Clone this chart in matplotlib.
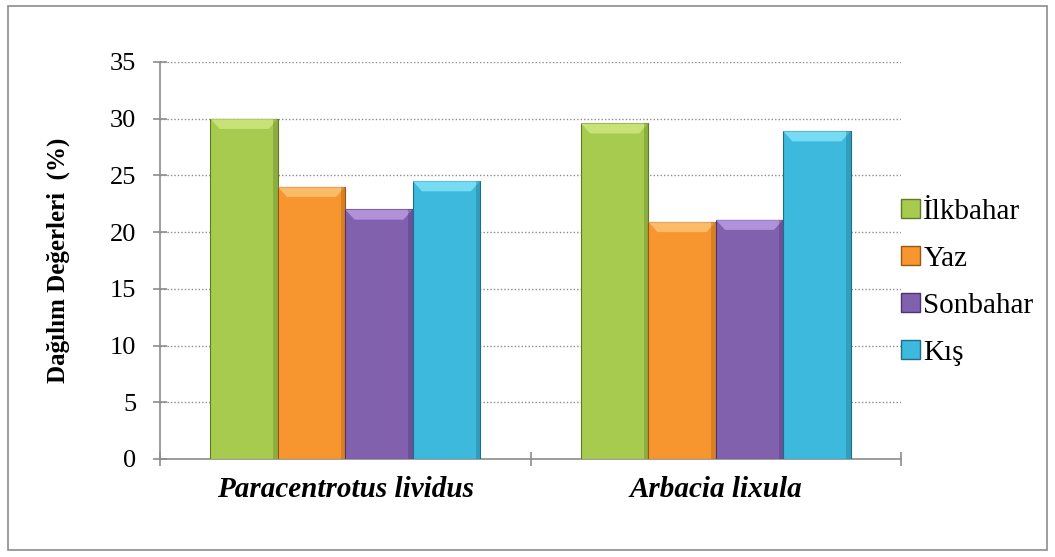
import matplotlib
matplotlib.use('Agg')
import matplotlib.pyplot as plt
import matplotlib.patches as patches
import numpy as np

species = ['Paracentrotus lividus', 'Arbacia lixula']
seasons = ['İlkbahar', 'Yaz', 'Sonbahar', 'Kış']
values = {
    'İlkbahar': [30.0, 29.6],
    'Yaz': [24.0, 20.9],
    'Sonbahar': [22.0, 21.1],
    'Kış': [24.5, 28.9],
}
colors = ['#A6CB4F', '#F7962F', '#8160AE', '#3DB9DD']
edges = ['#5E7A24', '#9A5511', '#4C3472', '#1D6E86']
highlights = ['#D6EE8A', '#FFCB80', '#C6A8EE', '#8FEBFF']

plt.rcParams['font.family'] = ['Liberation Serif', 'DejaVu Serif']

fig = plt.figure(figsize=(10.55, 5.57), dpi=100)
ax = fig.add_axes([0.1517, 0.176, 0.7023, 0.7127])

bar_w = 0.182
x = np.arange(len(species)) + 0.5
for i, s in enumerate(seasons):
    xs = x + (i - 1.5) * bar_w
    bars = ax.bar(xs, values[s], width=bar_w, color=colors[i],
                  edgecolor=edges[i], linewidth=0.8, zorder=3, label=s)
    # bevel highlight along the top edge of each bar
    for b in bars:
        x0, w, h = b.get_x(), b.get_width(), b.get_height()
        bev = 0.9
        poly = patches.Polygon([(x0, h), (x0 + w, h),
                                (x0 + w - 0.025, h - bev), (x0 + 0.025, h - bev)],
                               closed=True, facecolor=highlights[i], edgecolor='none',
                               alpha=0.7, zorder=4)
        ax.add_patch(poly)
        ax.add_patch(patches.Rectangle((x0 + w - 0.012, 0), 0.012, h,
                                       facecolor=edges[i], alpha=0.35,
                                       edgecolor='none', zorder=4))

ax.set_xlim(0, 2)
ax.set_ylim(0, 35)
ax.set_yticks(np.arange(0, 36, 5))
ax.set_xticks([0, 1, 2])
ax.set_xticklabels([])
ax.set_xticks(x, minor=True)
ax.set_xticklabels(species, minor=True, fontsize=21, fontweight='bold',
                   fontstyle='italic')
ax.tick_params(axis='x', which='minor', length=0, pad=12)
ax.tick_params(axis='x', which='major', direction='inout', length=10,
               color='#8C8C8C', width=1.2)
ax.tick_params(axis='y', direction='inout', length=10, color='#8C8C8C',
               width=1.2, labelsize=19, pad=12)

ax.grid(axis='y', color='#8C8C8C', linestyle=(0, (1, 1.5)), linewidth=1.0, zorder=0)
ax.set_axisbelow(True)
for side in ['top', 'right']:
    ax.spines[side].set_visible(False)
for side in ['left', 'bottom']:
    ax.spines[side].set_color('#8C8C8C')
    ax.spines[side].set_linewidth(1.2)

ax.set_ylabel('Dağılım Değerleri  (%)', fontsize=18, fontweight='bold', labelpad=29)

handles = [patches.Patch(facecolor=colors[i], edgecolor=edges[i], label=s)
           for i, s in enumerate(seasons)]
fig.legend(handles=handles, loc='upper left', bbox_to_anchor=(0.829, 0.69),
           frameon=False, fontsize=21, handlelength=0.65, handleheight=0.65,
           handletextpad=0.12, labelspacing=0.72)

fig.add_artist(patches.Rectangle((0.008, 0.012), 0.984, 0.978,
                                 transform=fig.transFigure, fill=False,
                                 edgecolor='#8C8C8C', linewidth=1.2))

fig.savefig('out.png', dpi=100)
